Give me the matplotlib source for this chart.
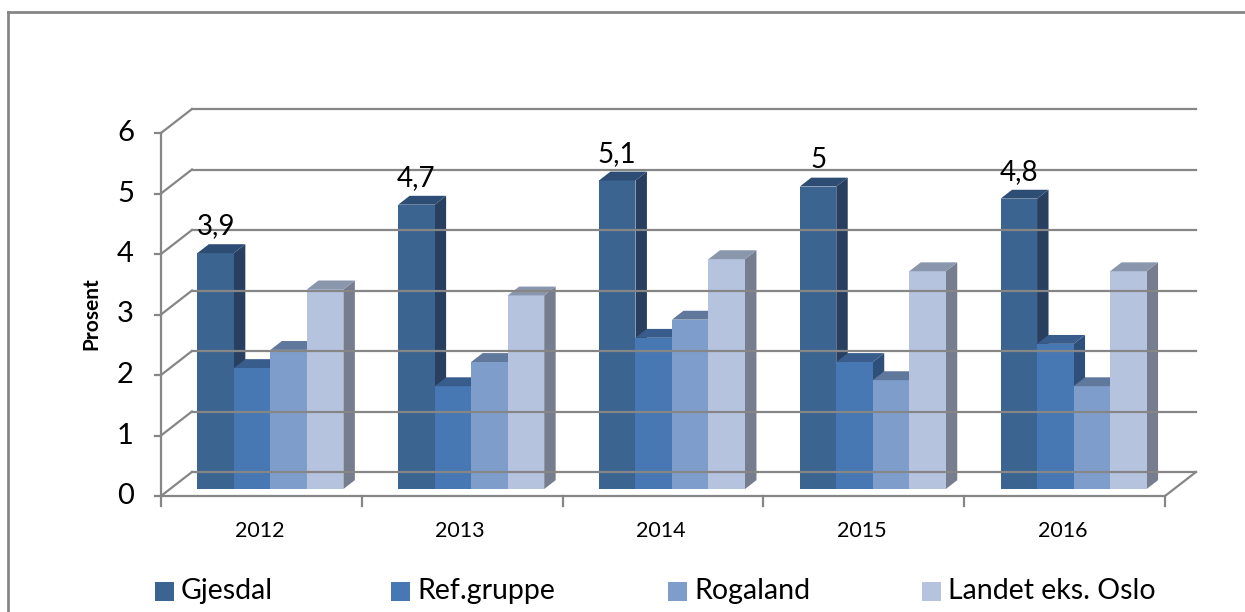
import matplotlib
matplotlib.use("Agg")
import matplotlib.pyplot as plt
from matplotlib.patches import Polygon, Rectangle
from matplotlib.lines import Line2D

years = ["2012", "2013", "2014", "2015", "2016"]
series_names = ["Gjesdal", "Ref.gruppe", "Rogaland", "Landet eks. Oslo"]
gjesdal = [3.9, 4.7, 5.1, 5.0, 4.8]
refgruppe = [2.0, 1.7, 2.5, 2.1, 2.4]
rogaland = [2.3, 2.1, 2.8, 1.8, 1.7]
landet = [3.3, 3.2, 3.8, 3.6, 3.6]
y_ticks = [0, 1, 2, 3, 4, 5, 6]

series = [gjesdal, refgruppe, rogaland, landet]
front_cols = ["#3B6491", "#4878B4", "#7F9DCB", "#B6C3DF"]
side_cols = ["#283F60", "#2F4F7B", "#5B7298", "#767D8F"]
top_cols = ["#2E4D75", "#385D8D", "#60789C", "#8A96AC"]
grid_col = "#868686"
FONT = "Lato"

W, H = 1245, 612
fig = plt.figure(figsize=(W / 100, H / 100), dpi=100)
# plot front plane: x 161..1165 px, y 496..133 px
ax = fig.add_axes([161 / W, (H - 496) / H, 1004 / W, 363 / H])
ncat = len(years)
ymax = y_ticks[-1]
ax.set_xlim(0, ncat)
ax.set_ylim(0, ymax)
ax.axis("off")

# depth vector (full floor depth) in data units
DX = 31 / 201.0
DY = 24 / 60.5

lw = 1.6
# back wall gridlines + left wall lines + front axis ticks
for v in y_ticks:
    ax.add_line(Line2D([DX, ncat + DX], [v + DY, v + DY], color=grid_col, lw=lw, clip_on=False))
    ax.add_line(Line2D([0, DX], [v, v], color=grid_col, lw=lw, clip_on=False)) if False else None
    ax.add_line(Line2D([0, DX], [v, v + DY], color=grid_col, lw=lw, clip_on=False))
    ax.add_line(Line2D([-0.03, 0], [v, v], color=grid_col, lw=lw, clip_on=False))
    ax.text(-0.135, v, str(v), ha="right", va="center", fontsize=21, family=FONT, color="black")
# front vertical axis
ax.add_line(Line2D([0, 0], [0, ymax], color=grid_col, lw=lw, clip_on=False))
# floor
ax.add_line(Line2D([0, ncat], [0, 0], color=grid_col, lw=lw, clip_on=False))
ax.add_line(Line2D([ncat, ncat + DX], [0, DY], color=grid_col, lw=lw, clip_on=False))
for c in range(ncat + 1):
    ax.add_line(Line2D([c, c], [0, -0.16], color=grid_col, lw=lw, clip_on=False))
for c, yr in enumerate(years):
    ax.text(c + 0.49, -0.58, yr, ha="center", va="center", fontsize=15.5, family=FONT)

# bars
nser = len(series)
w = 1.0 / (nser + 1.5)
f0, d = 0.29, 0.37
bdx, bdy = d * DX, d * DY
base = f0 * DY
for c in range(ncat):
    for s in range(nser):
        v = series[s][c]
        x0 = c + 0.75 * w + f0 * DX + s * w
        x1 = x0 + w
        y0, y1 = base, base + v
        front = Polygon([(x0, y0), (x1, y0), (x1, y1), (x0, y1)], closed=True,
                        facecolor=front_cols[s], edgecolor="none", clip_on=False)
        side = Polygon([(x1, y0), (x1 + bdx, y0 + bdy), (x1 + bdx, y1 + bdy), (x1, y1)], closed=True,
                       facecolor=side_cols[s], edgecolor="none", clip_on=False)
        top = Polygon([(x0, y1), (x1, y1), (x1 + bdx, y1 + bdy), (x0 + bdx, y1 + bdy)], closed=True,
                      facecolor=top_cols[s], edgecolor="none", clip_on=False)
        ax.add_patch(side)
        ax.add_patch(front)
        ax.add_patch(top)
        if s == 0:
            lab = ("%g" % v).replace(".", ",")
            ax.text((x0 + x1) / 2, y1 + 0.31, lab, ha="center", va="baseline",
                    fontsize=20, family=FONT)

# y label
fig.text(91 / W, 1 - 314 / H, "Prosent", rotation=90, ha="center", va="center",
         fontsize=15, fontweight="bold", family=FONT)

# legend
leg_x = [155, 391, 668, 922]
for s in range(nser):
    fig.patches.append(Rectangle((leg_x[s] / W, 1 - 601 / H), 19 / W, 19 / H,
                                 transform=fig.transFigure, facecolor=front_cols[s],
                                 edgecolor="none"))
    fig.text((leg_x[s] + 26) / W, 1 - 591 / H, series_names[s], ha="left", va="center",
             fontsize=20.5, family=FONT)

# outer border
fig.lines.append(Line2D([8 / W, 8 / W], [0, 1 - 12 / H], transform=fig.transFigure,
                        color=grid_col, lw=2))
fig.lines.append(Line2D([8 / W, 1], [1 - 12 / H, 1 - 12 / H], transform=fig.transFigure,
                        color=grid_col, lw=2))

fig.savefig("out.png", dpi=100)
